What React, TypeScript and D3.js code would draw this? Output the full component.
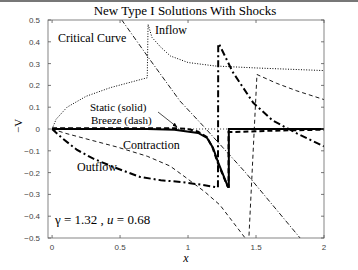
import * as d3 from 'd3'

// axis ticks
const xTicks = [0, 0.5, 1, 1.5, 2]
const yTicks = [-0.5, -0.4, -0.3, -0.2, -0.1, 0, 0.1, 0.2, 0.3, 0.4, 0.5]

// solution curves, [x, -V]
const criticalCurve = [
  [0, 0], [0.03, 0.045], [0.11, 0.1], [0.25, 0.15], [0.43, 0.19], [0.7, 0.235],
  [0.706, 0.48], [0.735, 0.42], [0.8, 0.375], [0.87, 0.335], [1.0, 0.305],
  [1.2, 0.289], [1.5, 0.28], [2.0, 0.268]
]
const staticSolution = [
  [0, 0], [0.7, 0], [0.9, -0.004], [0.98, -0.01], [1.074, -0.018], [1.14, -0.041],
  [1.184, -0.087], [1.22, -0.151], [1.294, -0.266], [1.3, -0.266], [1.3, 0], [2, 0]
]
const breezeSolution = [
  [0, 0.004], [0.9, 0.004], [1.0, 0.0], [1.074, -0.012], [1.14, -0.038], [1.18, -0.085],
  [1.215, -0.15], [1.29, -0.262], [1.298, -0.262], [1.298, -0.014], [1.4, -0.013],
  [1.6, -0.008], [2, -0.003]
]
const contractionSolution = [
  [0, 0], [0.1, -0.02], [0.25, -0.045], [0.48, -0.083], [0.7, -0.125], [0.868, -0.17],
  [0.978, -0.22], [1.125, -0.289], [1.235, -0.349], [1.42, -0.5], [1.445, -0.53],
  [1.507, 0.25], [1.65, 0.21], [1.8, 0.175], [2.0, 0.135]
]
const outflowSolution = [
  [0, 0], [0.08, -0.045], [0.184, -0.096], [0.3, -0.135], [0.449, -0.174], [0.647, -0.22],
  [0.8, -0.235], [0.978, -0.245], [1.1, -0.256], [1.22, -0.268], [1.222, 0.39],
  [1.228, 0.39], [1.33, 0.26], [1.48, 0.12], [1.62, 0.04], [1.8, -0.02], [2.0, -0.08]
]
const inflowSolution = [
  [0.47, 0.54], [0.507, 0.505], [0.721, 0.317], [0.941, 0.128], [1.125, 0.005],
  [1.419, -0.197], [1.824, -0.5], [1.86, -0.53]
]
const zeroLine = [[0, 0], [2, 0]]

const W = 358
const H = 270
const plot = { left: 48, right: 324, top: 20, bottom: 238 }

const App = () => {
  const x = d3.scaleLinear().domain([-0.03, 2]).range([plot.left, plot.right])
  const y = d3.scaleLinear().domain([-0.5, 0.5]).range([plot.bottom, plot.top])
  const line = d3
    .line<number[]>()
    .x(d => x(d[0]))
    .y(d => y(d[1]))

  const curves = [
    { data: zeroLine, w: 0.8, dash: '1,2' },
    { data: criticalCurve, w: 1, dash: '1,1.6' },
    { data: inflowSolution, w: 0.9, dash: '5,2,1,2' },
    { data: contractionSolution, w: 0.9, dash: '4,3' },
    { data: outflowSolution, w: 2, dash: '7,3,2,3' },
    { data: staticSolution, w: 2, dash: null },
    { data: breezeSolution, w: 2, dash: '5,3' }
  ]

  const serif = "'Liberation Serif', 'DejaVu Serif', serif"
  const sans = "'Liberation Sans', Arial, sans-serif"

  return (
    <svg
      width={W}
      height={H}
      style={{ position: 'absolute', left: 0, top: 0, background: '#fff' }}
    >
      <defs>
        <clipPath id='plotClip'>
          <rect x={plot.left} y={plot.top} width={plot.right - plot.left} height={plot.bottom - plot.top} />
        </clipPath>
        <marker id='arrowHead' viewBox='0 0 10 10' refX='9' refY='5' markerWidth='7' markerHeight='7' orient='auto'>
          <path d='M0,1 L10,5 L0,9 z' fill='#000' />
        </marker>
      </defs>
      <rect x={0} y={0} width={W} height={H} fill='#fff' />
      <rect x={0} y={0} width={W} height={2} fill='#777' />

      {/* curves */}
      <g clipPath='url(#plotClip)' fill='none' stroke='#000'>
        {curves.map((c, i) => (
          <path
            key={i}
            d={line(c.data as number[][]) || ''}
            strokeWidth={c.w}
            strokeDasharray={c.dash || undefined}
          />
        ))}
      </g>

      {/* axes box */}
      <rect
        x={plot.left}
        y={plot.top}
        width={plot.right - plot.left}
        height={plot.bottom - plot.top}
        fill='none'
        stroke='#666'
        strokeWidth={0.8}
      />
      <g stroke='#555' strokeWidth={0.8}>
        {xTicks.map(t => (
          <g key={'xt' + t}>
            <line x1={x(t)} x2={x(t)} y1={plot.bottom} y2={plot.bottom - 3} />
            <line x1={x(t)} x2={x(t)} y1={plot.top} y2={plot.top + 3} />
          </g>
        ))}
        {yTicks.map(t => (
          <g key={'yt' + t}>
            <line x1={plot.left} x2={plot.left + 3} y1={y(t)} y2={y(t)} />
            <line x1={plot.right} x2={plot.right - 3} y1={y(t)} y2={y(t)} />
          </g>
        ))}
      </g>
      <g fontFamily={sans} fontSize={8} fill='#444'>
        {xTicks.map(t => (
          <text key={'xl' + t} x={x(t)} y={plot.bottom + 12} textAnchor='middle'>
            {d3.format('~g')(t)}
          </text>
        ))}
        {yTicks.map(t => (
          <text key={'yl' + t} x={plot.left - 8} y={y(t) + 3} textAnchor='end'>
            {d3.format('~g')(t)}
          </text>
        ))}
      </g>

      {/* axis labels and title */}
      <text x={185} y={15} textAnchor='middle' fontFamily={serif} fontSize={13}>
        New Type I Solutions With Shocks
      </text>
      <text x={186} y={262} textAnchor='middle' fontFamily={serif} fontStyle='italic' fontSize={12}>
        x
      </text>
      <text
        transform='translate(22,126) rotate(-90)'
        textAnchor='middle'
        fontFamily={serif}
        fontSize={11}
      >
        −V
      </text>

      {/* annotations */}
      <g fontFamily={serif} fontSize={12} fill='#000'>
        <text x={58} y={42}>Critical Curve</text>
        <text x={155} y={34}>Inflow</text>
        <text x={90} y={111} fontSize={11}>Static (solid)</text>
        <text x={91} y={124} fontSize={11}>Breeze (dash)</text>
        <text x={123} y={149}>Contraction</text>
        <text x={77} y={171}>Outflow</text>
        <text x={55} y={224} fontSize={13}>
          γ = 1.32 , <tspan fontStyle='italic'>u</tspan> = 0.68
        </text>
      </g>
      <line x1={158} y1={112} x2={177} y2={127} stroke='#000' strokeWidth={0.7} markerEnd='url(#arrowHead)' />
    </svg>
  )
}

export default App
